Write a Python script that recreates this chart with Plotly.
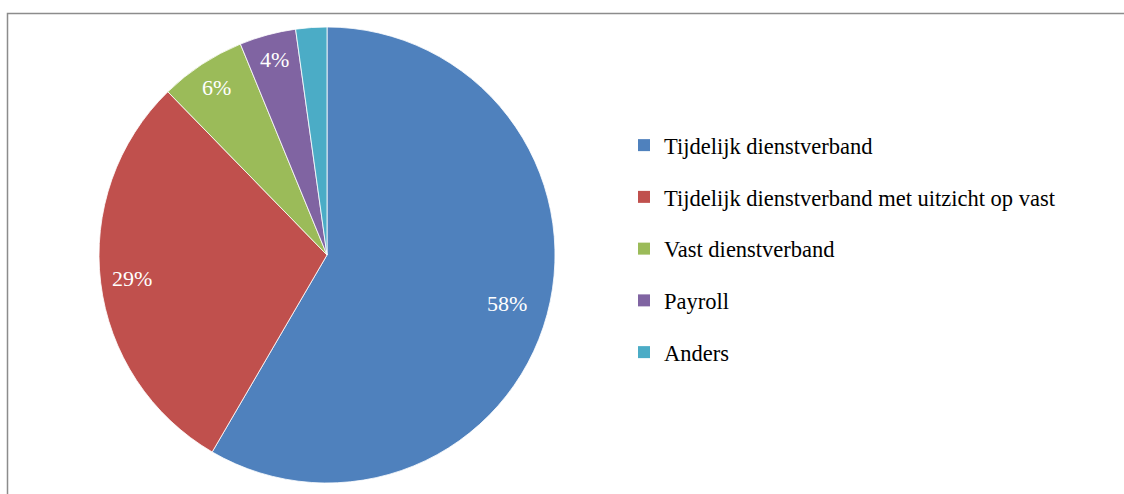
import math
import plotly.graph_objects as go

labels = ["Tijdelijk dienstverband",
          "Tijdelijk dienstverband met uitzicht op vast",
          "Vast dienstverband",
          "Payroll",
          "Anders"]
values = [58.4, 29.3, 6.1, 4.0, 2.2]
colors = ["#4F81BD", "#C0504D", "#9BBB59", "#8064A2", "#4BACC6"]
show_label = [True, True, True, True, False]
label_r = [0.82, 0.86, 0.88, 0.89, 0.89]  # radial position of data labels (fraction of radius)

W, H = 1124, 494
FONT = "Liberation Serif"

# pie placement (pixels)
CX0, CX1, CY0, CY1 = 99, 555, 27, 483

fig = go.Figure()
fig.add_trace(go.Pie(
    labels=labels, values=values, sort=False, direction="clockwise", rotation=0,
    marker=dict(colors=colors, line=dict(color="white", width=0.8)),
    textinfo="none",
    showlegend=False, hoverinfo="label+percent",
    domain=dict(x=[CX0 / W, CX1 / W], y=[1 - CY1 / H, 1 - CY0 / H]),
))

# data labels, placed along each slice's bisector (computed from the values)
total = sum(values)
cx, cy = (CX0 + CX1) / 2, (CY0 + CY1) / 2
R = (CX1 - CX0) / 2
cum = 0.0
annotations = []
for v, s, lr in zip(values, show_label, label_r):
    mid = (cum + v / 2) / total * 2 * math.pi
    cum += v
    if not s:
        continue
    px = cx + lr * R * math.sin(mid)
    py = cy - lr * R * math.cos(mid)
    annotations.append(dict(
        x=px / W, y=1 - py / H, xref="paper", yref="paper",
        text=f"{round(v / total * 100)}%", showarrow=False,
        xanchor="center", yanchor="middle",
        font=dict(family=FONT, size=22, color="white"),
    ))

for i, (lab, col) in enumerate(zip(labels, colors)):
    fig.add_trace(go.Scatter(
        x=[None], y=[None], mode="markers", name=lab,
        marker=dict(symbol="square", size=12, color=col),
        legendgroup=f"g{i}", showlegend=True, hoverinfo="skip",
    ))

fig.update_layout(
    width=W, height=H,
    margin=dict(l=0, r=0, t=0, b=0),
    paper_bgcolor="white", plot_bgcolor="white",
    xaxis=dict(visible=False), yaxis=dict(visible=False),
    font=dict(family=FONT, size=22, color="black"),
    legend=dict(x=624 / W, y=1 - 124 / H, xanchor="left", yanchor="top",
                tracegroupgap=19.5, font=dict(family=FONT, size=22.5, color="black"),
                bgcolor="rgba(0,0,0,0)", itemclick=False, itemdoubleclick=False),
    annotations=annotations,
    shapes=[dict(type="rect", xref="paper", yref="paper",
                 x0=7.5 / W, x1=1.02, y0=-0.05, y1=1 - 13.5 / H,
                 line=dict(color="#8C8C8C", width=1.5), layer="below")],
)

fig.write_html("out.html", config={"displayModeBar": False},
               post_script="document.body.style.margin='0';")
